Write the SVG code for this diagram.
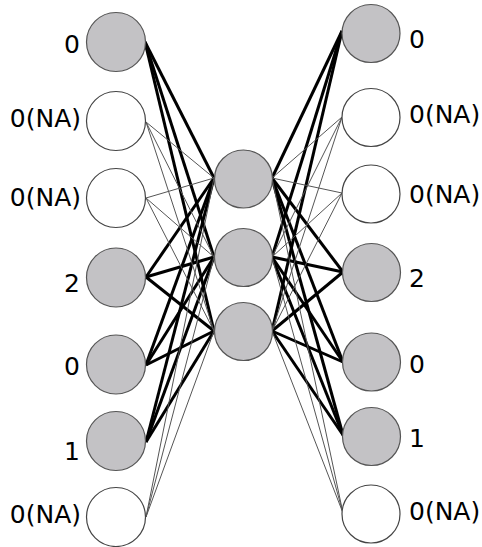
<svg xmlns="http://www.w3.org/2000/svg" width="482" height="547" viewBox="0 0 482 547">
<style>
.obs{fill:#c3c2c5;stroke:#555;stroke-width:1.2}
.na{fill:#fff;stroke:#444;stroke-width:1.2}
.lbl{font-family:"DejaVu Sans","Verdana",sans-serif;font-size:25px;fill:#000}
.thick{stroke:#000;stroke-width:3;fill:none}
.thin{stroke:#555;stroke-width:1;fill:none}
</style>
<rect width="482" height="547" fill="#fff"/>
<g id="connectors">
<!-- left to middle -->
<g class="thick">
<line x1="145" y1="42" x2="214" y2="178"/><line x1="145" y1="42" x2="214" y2="257"/><line x1="145" y1="42" x2="214" y2="331"/>
<line x1="146" y1="277" x2="214" y2="178"/><line x1="146" y1="277" x2="214" y2="257"/><line x1="146" y1="277" x2="214" y2="331"/>
<line x1="146" y1="365" x2="214" y2="178"/><line x1="146" y1="365" x2="214" y2="257"/><line x1="146" y1="365" x2="214" y2="331"/>
<line x1="146" y1="442" x2="214" y2="178"/><line x1="146" y1="442" x2="214" y2="257"/><line x1="146" y1="442" x2="214" y2="331"/>
</g>
<g class="thin">
<line x1="146" y1="122" x2="214" y2="178"/><line x1="146" y1="122" x2="214" y2="257"/><line x1="146" y1="122" x2="214" y2="331"/>
<line x1="146" y1="198" x2="214" y2="178"/><line x1="146" y1="198" x2="214" y2="257"/><line x1="146" y1="198" x2="214" y2="331"/>
<line x1="146" y1="517" x2="214" y2="178"/><line x1="146" y1="517" x2="214" y2="257"/><line x1="146" y1="517" x2="214" y2="331"/>
</g>
<!-- middle to right -->
<g class="thick">
<line x1="272" y1="178" x2="342" y2="31"/><line x1="272" y1="257" x2="342" y2="31"/><line x1="272" y1="331" x2="342" y2="31"/>
<line x1="272" y1="178" x2="343" y2="272"/><line x1="272" y1="257" x2="343" y2="272"/><line x1="272" y1="331" x2="343" y2="272"/>
<line x1="272" y1="178" x2="343" y2="362"/><line x1="272" y1="257" x2="343" y2="362"/><line x1="272" y1="331" x2="343" y2="362"/>
<line x1="272" y1="178" x2="343" y2="435"/><line x1="272" y1="257" x2="343" y2="435"/><line x1="272" y1="331" x2="343" y2="435"/>
</g>
<g class="thin">
<line x1="272" y1="178" x2="342" y2="117"/><line x1="272" y1="257" x2="342" y2="117"/><line x1="272" y1="331" x2="342" y2="117"/>
<line x1="272" y1="178" x2="342" y2="193"/><line x1="272" y1="257" x2="342" y2="193"/><line x1="272" y1="331" x2="342" y2="193"/>
<line x1="272" y1="178" x2="343" y2="513"/><line x1="272" y1="257" x2="343" y2="513"/><line x1="272" y1="331" x2="343" y2="513"/>
</g>
</g>
<g id="in0"><circle class="obs" cx="116" cy="42" r="29.5"/><text class="lbl" x="80" y="53" text-anchor="end">0</text></g>
<g id="in1"><circle class="na" cx="116" cy="121" r="29.5"/><text class="lbl" x="81" y="127" text-anchor="end">0(NA)</text></g>
<g id="in2"><circle class="na" cx="116" cy="198" r="29.5"/><text class="lbl" x="81" y="206" text-anchor="end">0(NA)</text></g>
<g id="in3"><circle class="obs" cx="116" cy="277.5" r="29.5"/><text class="lbl" x="80" y="292" text-anchor="end">2</text></g>
<g id="in4"><circle class="obs" cx="116" cy="364.5" r="29.5"/><text class="lbl" x="80" y="375" text-anchor="end">0</text></g>
<g id="in5"><circle class="obs" cx="116" cy="441" r="29.5"/><text class="lbl" x="80" y="460" text-anchor="end">1</text></g>
<g id="in6"><circle class="na" cx="116" cy="517" r="29.5"/><text class="lbl" x="81" y="523" text-anchor="end">0(NA)</text></g>
<g id="h0"><circle class="obs" cx="243.5" cy="179" r="29"/></g>
<g id="h1"><circle class="obs" cx="243.5" cy="257.5" r="29"/></g>
<g id="h2"><circle class="obs" cx="243.5" cy="331.5" r="29"/></g>
<g id="out0"><circle class="obs" cx="371" cy="33.5" r="29"/><text class="lbl" x="409" y="48">0</text></g>
<g id="out1"><circle class="na" cx="371" cy="117.5" r="29"/><text class="lbl" x="409" y="123">0(NA)</text></g>
<g id="out2"><circle class="na" cx="371" cy="194" r="29"/><text class="lbl" x="409" y="203">0(NA)</text></g>
<g id="out3"><circle class="obs" cx="371.5" cy="272.5" r="29"/><text class="lbl" x="409" y="287">2</text></g>
<g id="out4"><circle class="obs" cx="371.5" cy="362" r="29"/><text class="lbl" x="409" y="373">0</text></g>
<g id="out5"><circle class="obs" cx="371.5" cy="436.5" r="29"/><text class="lbl" x="409" y="447">1</text></g>
<g id="out6"><circle class="na" cx="371" cy="514" r="29"/><text class="lbl" x="409" y="520">0(NA)</text></g>
</svg>
